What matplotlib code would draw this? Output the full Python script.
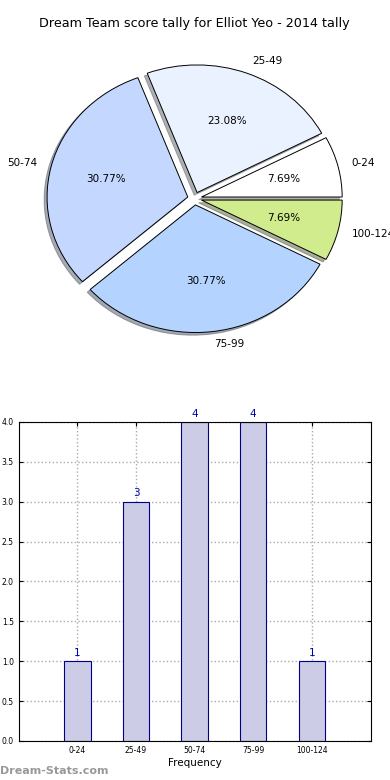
#!/usr/bin/env python3
import matplotlib
matplotlib.use('Agg')
import matplotlib.pyplot as plt

title = 'Dream Team score tally for Elliot Yeo - 2014 tally'
categories = ['0-24', '25-49', '50-74', '75-99', '100-124']
counts = [1, 3, 4, 4, 1]
pie_colors = ['#ffffff', '#eaf2ff', '#c4d8ff', '#b4d4ff', '#d0ec8c']


def main():
    fig, (ax1, ax2) = plt.subplots(2, 1, figsize=(3.9, 7.8), dpi=100)
    plt.subplots_adjust(left=0.048, right=0.95, bottom=0.05, top=0.95, hspace=0.2)

    wedges, texts, autotexts = ax1.pie(
        counts, labels=categories, colors=pie_colors, explode=[0.05] * len(counts),
        autopct='%1.2f%%', shadow={'ox': -0.015, 'oy': -0.015, 'shade': 0.6},
        startangle=0,
        wedgeprops={'edgecolor': 'black', 'linewidth': 0.7},
        textprops={'fontsize': 7.5})
    ax1.set_aspect('auto')
    ax1.set_xlim(-1.25, 1.25)
    ax1.set_ylim(-1.25, 1.25)
    ax1.set_title(title, fontsize=9.2, pad=9)

    x = list(range(1, len(categories) + 1))
    ax2.bar(x, counts, width=0.45, color='#ccccE6', edgecolor='#000088', linewidth=0.8,
            zorder=2)
    for xi, c in zip(x, counts):
        ax2.text(xi, c + 0.04, str(c), ha='center', va='bottom', color='#0000aa',
                 fontsize=7.5)
    ax2.set_xlim(0, 6)
    ax2.set_ylim(0, 4)
    ax2.set_xticks(x)
    ax2.set_xticklabels(categories)
    ax2.set_yticks([i * 0.5 for i in range(9)])
    ax2.tick_params(labelsize=5.5, direction='in', top=True, right=True, length=3)
    ax2.grid(True, linestyle=':', color='#aaaaaa', linewidth=1, zorder=0)
    ax2.set_axisbelow(True)
    ax2.set_xlabel('Frequency', fontsize=7.5, labelpad=2)

    fig.text(0.0, 0.005, 'Dream-Stats.com', fontsize=8, color='#999999',
             fontweight='bold', ha='left', va='bottom')

    plt.savefig('out.png')


if __name__ == '__main__':
    main()
